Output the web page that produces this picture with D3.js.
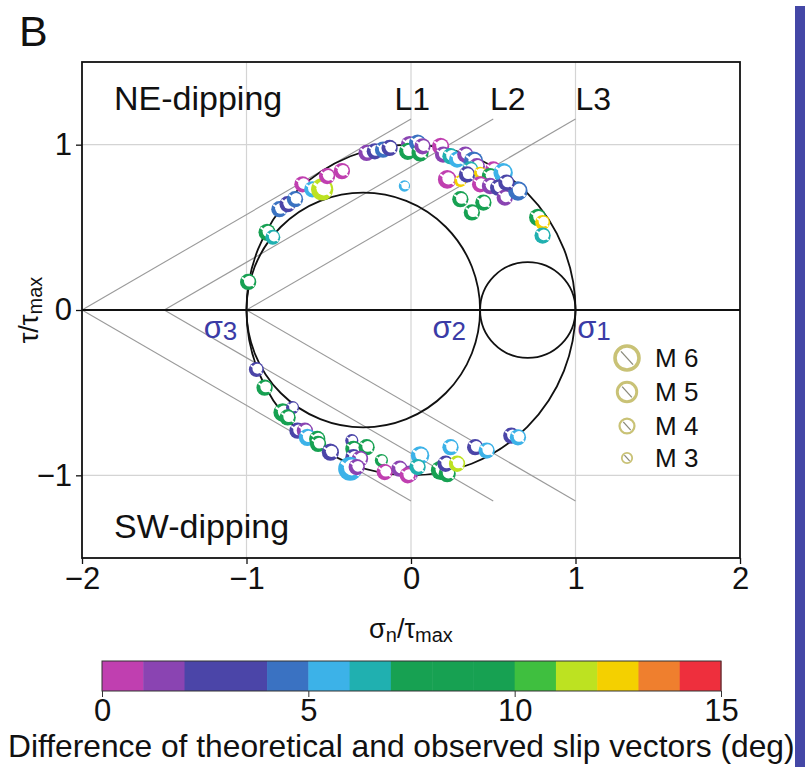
<!DOCTYPE html>
<html><head><meta charset="utf-8">
<script src="https://cdn.jsdelivr.net/npm/d3@7"></script>
<style>html,body{margin:0;padding:0;background:#fff;}svg{display:block;font-family:"Liberation Sans",Arial,sans-serif;}</style>
</head><body>
<svg id="chart" width="808" height="767"></svg>
<script>
// ---- data ----
const xTicks = [-2, -1, 0, 1, 2];
const yTicks = [-1, 0, 1];
const lineOrigins = [-2, -1.5, -1];          // L1, L2, L3 start on the σn axis
const lineNames = ["L1", "L2", "L3"];
const sigmaLabels = ["σ3", "σ2", "σ1"];
const sigmaValues = [-1, 0.42, 1];
// event positions (σn/τmax, τ/τmax), magnitude, slip-vector difference (deg)
const sigmaN = [-0.99,-0.875,-0.84,-0.80,-0.75,-0.705,-0.66,-0.60,-0.54,-0.51,-0.42,-0.27,-0.22,-0.17,-0.13,-0.04,-0.01,-0.02,0.04,0.055,0.07,0.18,0.195,0.24,0.28,0.33,0.38,0.40,0.36,0.22,0.30,0.34,0.42,0.50,0.48,0.56,0.42,0.48,0.53,0.57,0.65,0.58,0.30,0.37,0.44,0.77,0.80,0.80,
  -0.94,-0.89,-0.78,-0.72,-0.75,-0.69,-0.645,-0.63,-0.57,-0.565,-0.49,-0.36,-0.35,-0.27,-0.35,-0.31,-0.37,-0.33,-0.18,-0.16,-0.07,-0.006,-0.02,0.055,0.04,0.18,0.22,0.21,0.28,0.24,0.39,0.46,0.61,0.65];
const tau = [0.17,0.47,0.44,0.61,0.64,0.67,0.76,0.73,0.73,0.81,0.84,0.95,0.96,0.97,0.98,0.75,1.0,0.96,1.01,0.95,0.99,0.99,0.94,0.93,0.91,0.94,0.90,0.87,0.85,0.79,0.78,0.82,0.83,0.85,0.81,0.83,0.76,0.75,0.74,0.68,0.72,0.77,0.67,0.59,0.65,0.56,0.53,0.45,
  -0.36,-0.47,-0.62,-0.59,-0.65,-0.73,-0.73,-0.77,-0.78,-0.81,-0.86,-0.79,-0.84,-0.83,-0.89,-0.90,-0.96,-0.95,-0.91,-0.98,-0.96,-0.99,-1.0,-0.88,-0.95,-0.97,-0.99,-0.93,-0.93,-0.83,-0.83,-0.85,-0.76,-0.77];
const magnitude = [4.3,4.5,4.0,4.3,4.3,4.3,4.3,4.3,5.6,4.3,4.3,4.3,4.3,4.3,4.3,3.2,4.5,4.5,4.5,4.5,4.3,4.5,4.3,4.3,4.3,4.3,5.0,4.3,4.3,4.8,3.4,4.3,3.4,4.3,4.3,5.0,4.3,4.3,4.3,4.3,5.0,4.3,4.3,4.3,4.3,4.5,4.0,4.3,
  4.0,4.3,4.8,3.6,4.3,4.3,4.3,4.5,4.3,4.3,4.5,3.6,4.3,4.3,4.3,4.3,6.0,4.3,3.6,4.3,4.3,4.3,4.3,4.8,4.3,5.0,4.5,4.3,4.3,4.3,4.3,4.3,4.3,4.3];
const slipDiff = [8.5,8.5,6.5,4.5,3.5,4.5,0.5,5.5,11.5,0.5,0.5,1.5,3,4.5,3,5.5,1.5,8.5,4.5,8.5,1.5,0.5,1.5,6.5,5.5,1.5,4.5,1.5,6.5,0.5,12.5,3,12.5,0.5,8.5,5.5,0.5,1.5,3,1.5,4.5,3,8.5,8.5,8.5,8.5,12.5,6.5,
  3.5,8.5,8.5,3,8.5,3,1.5,5.5,8.5,8.5,3,3,8.5,8.5,3,1.5,5.5,1.5,8.5,0.5,1.5,1.5,0.5,5.5,6.5,8.5,8.5,3,11.5,5.5,3,5.5,3,5.5];
const legendMags = [6, 5, 4, 3];
const cbarTicks = [0, 5, 10, 15];
const cbarColors = ["#c03fb0","#8a44b2","#4b45a8","#4b45a8","#3a72c2","#3cb2e8","#20b0b0","#17a152","#17a152","#17a152","#3fbf3f","#bde221","#f4d000","#ef7f2e","#ee2f3d"];

// ---- layout ----
const svg = d3.select("#chart");
const x = d3.scaleLinear().domain([-2, 2]).range([82, 740]);
const y = d3.scaleLinear().domain([-1.5, 1.5]).range([558, 62]);
const rScale = d3.scaleLinear().domain([3, 6]).range([5.2, 12]);
const cScale = d3.scaleQuantize().domain([0, 15]).range(cbarColors);
const tan30 = Math.tan(Math.PI / 6);

// right blue bar
svg.append("rect").attr("x", 795).attr("y", 6).attr("width", 10).attr("height", 761).attr("fill", "#4447a6");

// panel letter
svg.append("text").attr("x", 19).attr("y", 46).attr("font-size", 43).attr("fill", "#111").text("B");

// grid
const grid = svg.append("g").attr("stroke", "#d4d4d4").attr("stroke-width", 1.2);
[-1, 0, 1].forEach(v => grid.append("line").attr("x1", x(v)).attr("x2", x(v)).attr("y1", y(1.5)).attr("y2", y(-1.5)));
[-1, 1].forEach(v => grid.append("line").attr("x1", x(-2)).attr("x2", x(2)).attr("y1", y(v)).attr("y2", y(v)));

// L lines
const lg = svg.append("g").attr("stroke", "#9a9a9a").attr("stroke-width", 1.1).attr("fill", "none");
lineOrigins.forEach(x0 => {
  [1, -1].forEach(s => lg.append("line").attr("x1", x(x0)).attr("y1", y(0)).attr("x2", x(x0 + 2)).attr("y2", y(s * 2 * tan30)));
});

// Mohr circles
const mc = svg.append("g").attr("stroke", "#111").attr("stroke-width", 1.8).attr("fill", "none");
const circ = [[-1, 1], [-1, sigmaValues[1]], [sigmaValues[1], 1]];
circ.forEach(([a, b]) => {
  const c = (a + b) / 2, r = (b - a) / 2;
  mc.append("ellipse").attr("cx", x(c)).attr("cy", y(0)).attr("rx", x(c + r) - x(c)).attr("ry", y(0) - y(r));
});
// zero line
svg.append("line").attr("x1", x(-2)).attr("x2", x(2)).attr("y1", y(0)).attr("y2", y(0)).attr("stroke", "#111").attr("stroke-width", 1.8);

// sigma labels
const sigX = [-1.26, 0.13, 1.01];
sigmaLabels.forEach((t, i) => {
  const tx = svg.append("text").attr("x", x(sigX[i])).attr("y", y(0) + 28).attr("font-size", 31).attr("fill", "#3b3ba6");
  tx.append("tspan").text(t[0]);
  tx.append("tspan").attr("font-size", 26).attr("dy", 2).text(t[1]);
});

// line labels
const lblX = [-0.1, 0.48, 1.0];
lineNames.forEach((t, i) => svg.append("text").attr("x", x(lblX[i])).attr("y", 110).attr("font-size", 32).attr("fill", "#111").text(t));

// region labels
svg.append("text").attr("x", 114).attr("y", 110).attr("font-size", 34).attr("fill", "#111").text("NE-dipping");
svg.append("text").attr("x", 114).attr("y", 538).attr("font-size", 34).attr("fill", "#111").text("SW-dipping");

// markers
function marker(g, r, color) {
  g.append("circle").attr("r", r).attr("fill", color);
  g.append("circle").attr("r", r * 0.66).attr("cx", r * 0.14).attr("cy", -r * 0.1).attr("fill", "#fff");
  g.append("line").attr("x1", -r * 0.75).attr("y1", -r * 0.55).attr("x2", r * 0.75).attr("y2", r * 0.55)
    .attr("stroke", "#fff").attr("stroke-width", Math.max(1.2, r * 0.22));
}
const mg = svg.append("g");
sigmaN.forEach((v, i) => {
  const g = mg.append("g").attr("transform", `translate(${x(v)},${y(tau[i])})`);
  marker(g, rScale(magnitude[i]), cScale(slipDiff[i]));
});

// frame
svg.append("rect").attr("x", x(-2)).attr("y", y(1.5)).attr("width", x(2) - x(-2)).attr("height", y(-1.5) - y(1.5))
  .attr("fill", "none").attr("stroke", "#111").attr("stroke-width", 1.8);

// axes
const xAxis = svg.append("g").attr("transform", `translate(0,${y(-1.5)})`)
  .call(d3.axisBottom(x).tickValues(xTicks).tickSize(6).tickPadding(3).tickFormat(d => d < 0 ? "−" + Math.abs(d) : d));
const yAxis = svg.append("g").attr("transform", `translate(${x(-2)},0)`)
  .call(d3.axisLeft(y).tickValues(yTicks).tickSize(6).tickPadding(4).tickFormat(d => d < 0 ? "−" + Math.abs(d) : d));
[xAxis, yAxis].forEach(a => {
  a.select(".domain").remove();
  a.selectAll("line").attr("stroke", "#111").attr("stroke-width", 1.3);
  a.selectAll("text").attr("font-size", 31).attr("fill", "#111").attr("font-family", "Liberation Sans, Arial, sans-serif");
});

// axis titles
const xt = svg.append("text").attr("x", x(0)).attr("y", 638).attr("text-anchor", "middle").attr("font-size", 27).attr("fill", "#111");
xt.append("tspan").text("σ");
xt.append("tspan").attr("font-size", 20).attr("dy", 4).text("n");
xt.append("tspan").attr("dy", -4).text("/τ");
xt.append("tspan").attr("font-size", 20).attr("dy", 4).text("max");
const yt = svg.append("text").attr("transform", `translate(38,${y(0)}) rotate(-90)`).attr("text-anchor", "middle").attr("font-size", 27).attr("fill", "#111");
yt.append("tspan").text("τ/τ");
yt.append("tspan").attr("font-size", 20).attr("dy", 4).text("max");

// legend
const legY = [358, 392, 426, 458];
legendMags.forEach((m, i) => {
  const g = svg.append("g").attr("transform", `translate(627,${legY[i]})`);
  const r = rScale(m);
  g.append("circle").attr("r", r).attr("fill", "#fff").attr("stroke", "#c9c276").attr("stroke-width", Math.max(1.8, r * 0.3));
  g.append("line").attr("x1", -r * 0.5).attr("y1", -r * 0.55).attr("x2", r * 0.5).attr("y2", r * 0.55).attr("stroke", "#8a8a7a").attr("stroke-width", 1.3);
  svg.append("text").attr("x", 655).attr("y", legY[i] + 9).attr("font-size", 26).attr("fill", "#111").text("M " + m);
});

// colorbar
const cx = d3.scaleLinear().domain([0, 15]).range([102, 721]);
const cb = svg.append("g");
cbarColors.forEach((c, i) => cb.append("rect").attr("x", cx(i)).attr("y", 661).attr("width", cx(i + 1) - cx(i) + 0.5).attr("height", 30).attr("fill", c));
cb.append("rect").attr("x", cx(0)).attr("y", 661).attr("width", cx(15) - cx(0)).attr("height", 30).attr("fill", "none").attr("stroke", "#333").attr("stroke-width", 1);
const cAxis = svg.append("g").attr("transform", "translate(0,691)").call(d3.axisBottom(cx).tickValues(cbarTicks).tickSize(6).tickPadding(2));
cAxis.select(".domain").remove();
cAxis.selectAll("line").attr("stroke", "#333");
cAxis.selectAll("text").attr("font-size", 31).attr("fill", "#111").attr("font-family", "Liberation Sans, Arial, sans-serif");
const ctitle = svg.append("text").attr("x", 8).attr("y", 757).attr("font-size", 24).attr("fill", "#111")
  .text("Difference of theoretical and observed slip vectors (deg)");
const w = ctitle.node().getComputedTextLength();
ctitle.attr("font-size", 24 * 787 / w);
</script>
</body></html>
